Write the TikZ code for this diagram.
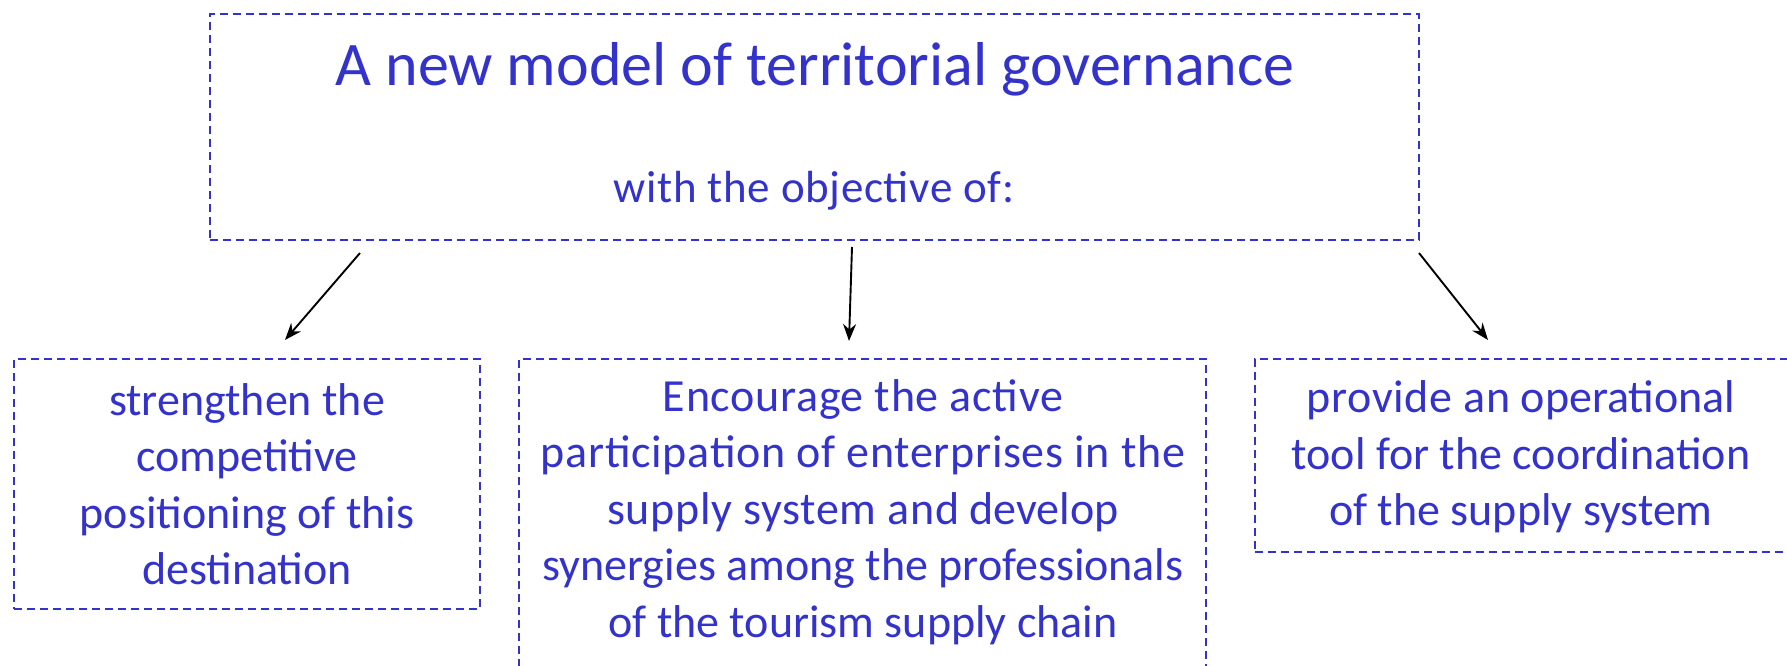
\documentclass[tikz,border=0pt]{standalone}
\usepackage{fontspec}
\setmainfont{Carlito}
\newfontfamily\lightfont[LetterSpace=1.5]{Carlito}
\usetikzlibrary{arrows.meta}
\definecolor{myblue}{RGB}{51,51,204}
\tikzset{
  box/.style={draw=myblue, dash pattern=on 8pt off 5pt, line width=1.5pt, inner sep=0pt},
  txt/.style={text=myblue, align=center, inner sep=0pt},
  arr/.style={-{Stealth[length=17pt,width=13pt]}, line width=1.9pt, draw=black}
}
\newcommand{\childfont}{\fontsize{46}{56.5}\selectfont}
\newcommand{\lt}[1]{{\lightfont #1}}
\begin{document}
\begin{tikzpicture}[x=1pt,y=-1pt]
\useasboundingbox (0,0) rectangle (1787,666);
% boxes
\node[box, minimum width=1209pt, minimum height=226pt] (top) at (814.5,127) {};
\node[box, minimum width=466pt, minimum height=250pt] (left) at (247,484) {};
\node[box, minimum width=687pt, minimum height=380pt] (mid) at (862.5,549) {};
\node[box, minimum width=560pt, minimum height=193pt] (right) at (1535,455.5) {};
% texts
\node[txt, anchor=base, font=\fontsize{62}{74}\selectfont] (title) at (815,86) {A new model of territorial governance};
\node[txt, anchor=base, font=\fontsize{45}{54}\selectfont] (obj) at (814,202) {\lt{with the objective of:}};
\node[txt, font=\childfont] (ltxt) at (247,484) {strengthen the\\competitive\\positioning of this\\destination};
\node[txt, font=\childfont] (mtxt) at (863,512) {\lt{Encourage the active}\\\lt{participation of enterprises in the}\\\lt{supply system and} develop\\synergies among the professionals\\of the tourism supply chain};
\node[txt, font=\childfont] (rtxt) at (1521,457) {\lt{provide an} operational\\tool for the coordination\\of the supply system};
% arrows
\coordinate (a1s) at (360,253); \coordinate (a1e) at (285,340);
\coordinate (a2s) at (852,247); \coordinate (a2e) at (849,341);
\coordinate (a3s) at (1419,253); \coordinate (a3e) at (1488,340);
\draw[arr] (a1s) -- (a1e);
\draw[arr] (a2s) -- (a2e);
\draw[arr] (a3s) -- (a3e);
\end{tikzpicture}
\end{document}
